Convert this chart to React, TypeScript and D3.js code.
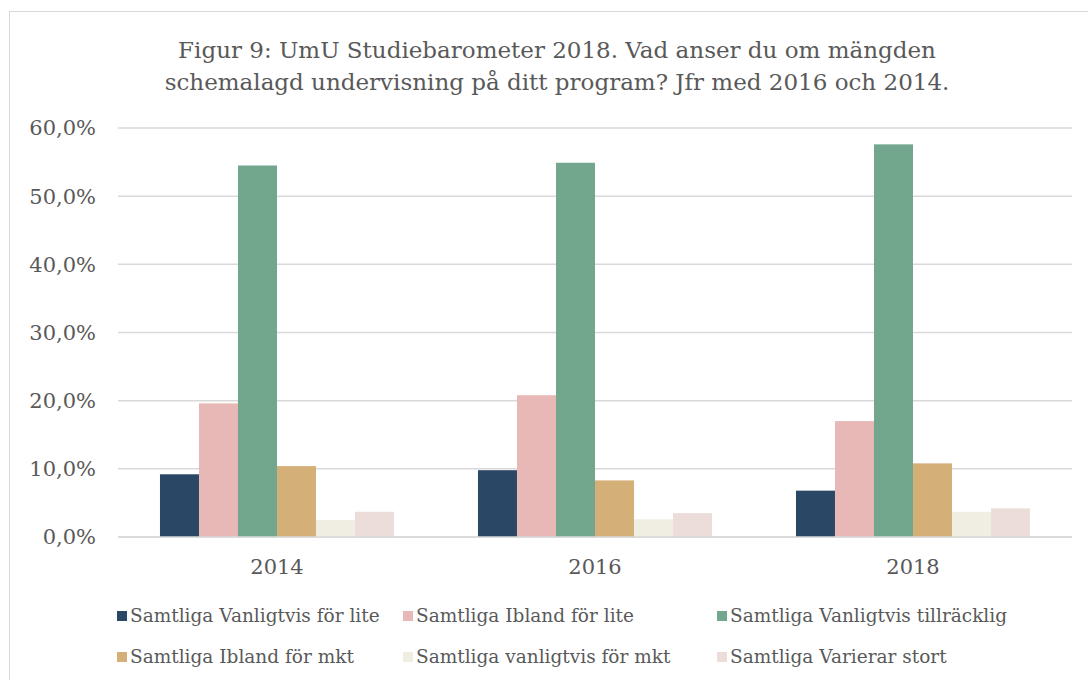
import React from "react";
import * as d3 from "d3";

const years = ["2014", "2016", "2018"];
const seriesNames = [
  "Samtliga Vanligtvis för lite",
  "Samtliga Ibland för lite",
  "Samtliga Vanligtvis tillräcklig",
  "Samtliga Ibland för mkt",
  "Samtliga vanligtvis för mkt",
  "Samtliga Varierar stort",
];
const vanligtvisForLite = [9.2, 9.8, 6.8];
const iblandForLite = [19.6, 20.8, 17.0];
const vanligtvisTillracklig = [54.5, 54.9, 57.6];
const iblandForMkt = [10.4, 8.3, 10.8];
const vanligtvisForMkt = [2.5, 2.6, 3.7];
const varierarStort = [3.7, 3.5, 4.2];
const seriesValues = [
  vanligtvisForLite,
  iblandForLite,
  vanligtvisTillracklig,
  iblandForMkt,
  vanligtvisForMkt,
  varierarStort,
];
const colors = ["#2a4865", "#e8b8b6", "#72a78e", "#d5af78", "#f0ede2", "#ecdcda"];
const yTicks = [0, 10, 20, 30, 40, 50, 60];
const titleLines = [
  "Figur 9: UmU Studiebarometer 2018. Vad anser du om mängden",
  "schemalagd undervisning på ditt program? Jfr med 2016 och 2014.",
];

const FONT = "'DejaVu Serif', serif";
const TEXT = "#595959";

export default function App() {
  const left = 118, right = 1072, top = 128, bottom = 537;
  const y = d3.scaleLinear().domain([0, 60]).range([bottom, top]);
  const x0 = d3.scaleBand<string>().domain(years).range([left, right]).paddingInner(0.264).paddingOuter(0.132);
  const x1 = d3.scaleBand<number>().domain(d3.range(seriesNames.length)).range([0, x0.bandwidth()]).padding(0);
  const fmt = (v: number) => v.toFixed(1).replace(".", ",") + "%";
  const legendX = [117, 403, 717];
  const legendY = [616, 657];

  return (
    <svg width={1088} height={680} style={{ position: "absolute", left: 0, top: 0, background: "#fff" }} fontFamily={FONT}>
      <rect x={9.5} y={11.5} width={1100} height={700} fill="#fff" stroke="#d9d9d9" strokeWidth={1} />
      {titleLines.map((t, i) => (
        <text key={i} x={557} y={58 + i * 32} textAnchor="middle" fontSize={23} fill={TEXT}>{t}</text>
      ))}
      {yTicks.map((t) => (
        <g key={t}>
          <line x1={left} x2={right} y1={y(t)} y2={y(t)} stroke="#d9d9d9" strokeWidth={1.5} />
          <text x={96} y={y(t)} dy="0.35em" textAnchor="end" fontSize={21} fill={TEXT}>{fmt(t)}</text>
        </g>
      ))}
      {years.map((yr, yi) => (
        <g key={yr} transform={`translate(${x0(yr)},0)`}>
          {seriesValues.map((vals, si) => (
            <rect key={si} x={x1(si)} y={y(vals[yi])} width={x1.bandwidth()} height={bottom - y(vals[yi])} fill={colors[si]} />
          ))}
          <text x={x0.bandwidth() / 2} y={567} dy="0.35em" textAnchor="middle" fontSize={21} fill={TEXT}>{yr}</text>
        </g>
      ))}
      <line x1={left} x2={right} y1={bottom} y2={bottom} stroke="#d9d9d9" strokeWidth={1.5} />
      {seriesNames.map((n, i) => {
        const lx = legendX[i % 3];
        const ly = legendY[Math.floor(i / 3)];
        return (
          <g key={n}>
            <rect x={lx} y={ly - 5} width={10} height={10} fill={colors[i]} />
            <text x={lx + 13} y={ly} dy="0.35em" fontSize={18.5} fill={TEXT}>{n}</text>
          </g>
        );
      })}
    </svg>
  );
}
